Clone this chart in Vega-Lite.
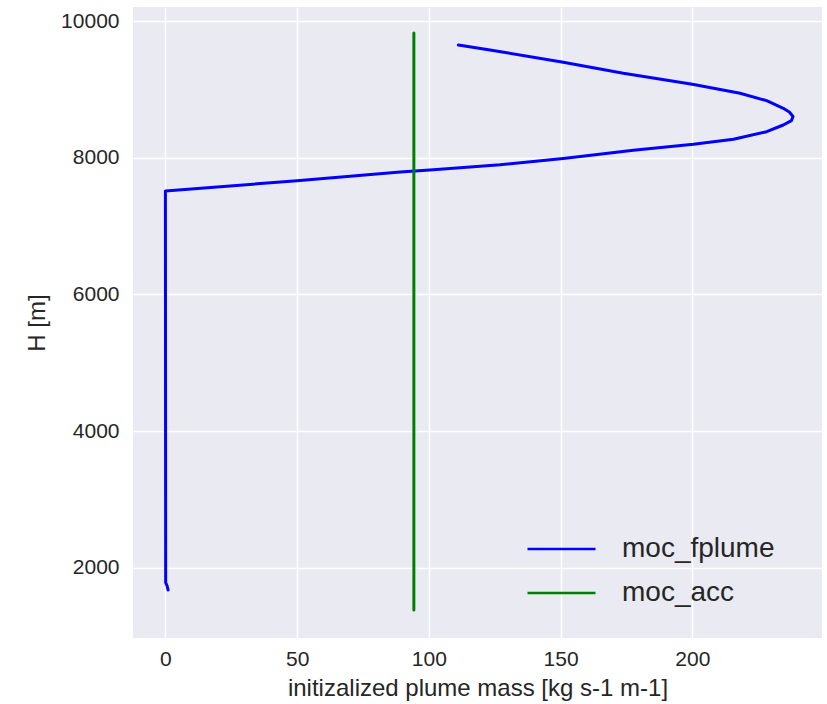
{
  "$schema": "https://vega.github.io/schema/vega-lite/v6.json",
  "width": 689,
  "height": 631,
  "autosize": {"type": "none"},
  "padding": {"left": 133, "top": 7, "right": 5, "bottom": 66},
  "background": "white",
  "data": {
    "values": [
      {"series": "moc_fplume", "i": 1, "mass": 1.0, "H": 1675},
      {"series": "moc_fplume", "i": 2, "mass": 0.6, "H": 1740},
      {"series": "moc_fplume", "i": 3, "mass": 0.1, "H": 1782},
      {"series": "moc_fplume", "i": 4, "mass": 0.0, "H": 7514},
      {"series": "moc_fplume", "i": 5, "mass": 49.9, "H": 7665},
      {"series": "moc_fplume", "i": 6, "mass": 89.1, "H": 7793},
      {"series": "moc_fplume", "i": 7, "mass": 101.7, "H": 7826},
      {"series": "moc_fplume", "i": 8, "mass": 127.0, "H": 7898},
      {"series": "moc_fplume", "i": 9, "mass": 151.0, "H": 7990},
      {"series": "moc_fplume", "i": 10, "mass": 177.6, "H": 8110},
      {"series": "moc_fplume", "i": 11, "mass": 200.4, "H": 8198},
      {"series": "moc_fplume", "i": 12, "mass": 215.6, "H": 8271},
      {"series": "moc_fplume", "i": 13, "mass": 228.2, "H": 8382},
      {"series": "moc_fplume", "i": 14, "mass": 234.5, "H": 8480},
      {"series": "moc_fplume", "i": 15, "mass": 237.6, "H": 8545},
      {"series": "moc_fplume", "i": 16, "mass": 238.2, "H": 8605},
      {"series": "moc_fplume", "i": 17, "mass": 236.8, "H": 8670},
      {"series": "moc_fplume", "i": 18, "mass": 234.5, "H": 8724},
      {"series": "moc_fplume", "i": 19, "mass": 228.2, "H": 8836},
      {"series": "moc_fplume", "i": 20, "mass": 218.1, "H": 8944},
      {"series": "moc_fplume", "i": 21, "mass": 200.0, "H": 9076},
      {"series": "moc_fplume", "i": 22, "mass": 173.8, "H": 9237},
      {"series": "moc_fplume", "i": 23, "mass": 151.0, "H": 9398},
      {"series": "moc_fplume", "i": 24, "mass": 123.2, "H": 9578},
      {"series": "moc_fplume", "i": 25, "mass": 111.2, "H": 9651},
      {"series": "moc_acc", "i": 1, "mass": 94.3, "H": 1382},
      {"series": "moc_acc", "i": 2, "mass": 94.3, "H": 9826}
    ]
  },
  "mark": {"type": "line", "strokeWidth": 3, "strokeCap": "round", "strokeJoin": "round", "clip": true},
  "encoding": {
    "x": {
      "field": "mass", "type": "quantitative",
      "scale": {"domain": [-12.3, 249.2], "nice": false, "zero": false},
      "axis": {"values": [0, 50, 100, 150, 200], "title": "initizalized plume mass [kg s-1 m-1]", "labelPadding": 10, "titlePadding": 7}
    },
    "y": {
      "field": "H", "type": "quantitative",
      "scale": {"domain": [972, 10207], "nice": false, "zero": false},
      "axis": {"values": [2000, 4000, 6000, 8000, 10000], "format": "d", "title": "H [m]", "labelPadding": 14, "titlePadding": 11}
    },
    "color": {
      "field": "series", "type": "nominal",
      "scale": {"domain": ["moc_fplume", "moc_acc"], "range": ["#0000FF", "#008000"]},
      "legend": {
        "title": null,
        "orient": "none",
        "legendX": 393,
        "legendY": 522,
        "padding": 0,
        "symbolType": "stroke",
        "symbolSize": 4624,
        "symbolStrokeWidth": 2.5,
        "clipHeight": 40,
        "rowPadding": 4,
        "labelOffset": 25,
        "labelFontSize": 28,
        "labelFont": "Liberation Sans",
        "labelColor": "#262626",
        "fillColor": null,
        "strokeColor": null
      }
    },
    "order": {"field": "i", "type": "quantitative"}
  },
  "config": {
    "view": {"fill": "#EAEAF2", "stroke": null},
    "axis": {
      "domain": false,
      "ticks": false,
      "grid": true,
      "gridColor": "#FFFFFF",
      "gridWidth": 1.5,
      "labelFont": "Liberation Sans",
      "labelFontSize": 21,
      "labelColor": "#262626",
      "titleFont": "Liberation Sans",
      "titleFontSize": 24,
      "titleFontWeight": "normal",
      "titleColor": "#262626"
    }
  }
}
